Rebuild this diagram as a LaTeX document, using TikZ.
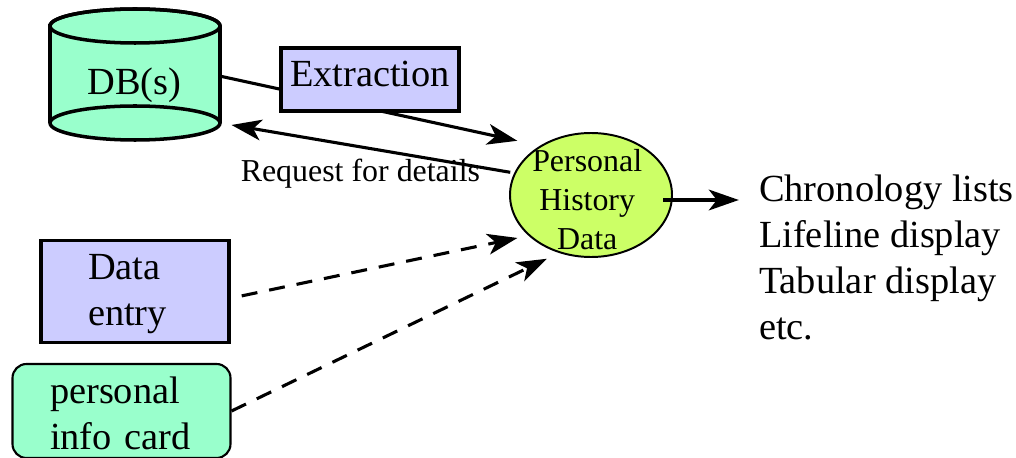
\documentclass[tikz,border=0pt]{standalone}
\usepackage{fontspec}
\setmainfont{Liberation Serif}
\usetikzlibrary{arrows.meta,shapes.geometric,backgrounds}
\definecolor{dbgreen}{HTML}{99FFCC}
\definecolor{boxblue}{HTML}{CCCCFF}
\definecolor{phdyellow}{HTML}{CCFF66}
\tikzset{
	bigtext/.style={font=\fontsize{27.3}{32.7}\selectfont},
	smalltext/.style={font=\fontsize{22.7}{27.7}\selectfont},
	bluebox/.style={draw=black, line width=2.5pt, fill=boxblue, inner sep=0pt, bigtext},
	flowarrow/.style={line width=2.2pt, -{Stealth[length=0.75cm, width=0.52cm, inset=0.2cm]}},
	flowdashed/.style={flowarrow, dash pattern=on 0.4cm off 0.3cm}
}
\begin{document}
\begin{tikzpicture}
	\useasboundingbox (0, 0) rectangle (25.4, 11.425);
	% Datenbank
	\filldraw[line width=2.5pt, draw=black, fill=dbgreen] (1.25, 10.775) -- (1.25, 8.35)
		arc (180:360:2.125 and 0.425) -- (5.5, 10.775) arc (0:180:2.125 and 0.425) -- cycle;
	\draw[line width=2.5pt] (3.375, 10.775) ellipse (2.125 and 0.425);
	\draw[line width=2.5pt] (1.25, 8.35) arc (180:0:2.125 and 0.425);
	\node[bigtext, minimum width=4.25cm, minimum height=2.75cm, inner sep=0pt] (db) at (3.36, 9.3) {DB(s)};
	% Kaesten links
	\node[bluebox, minimum width=4.45cm, minimum height=1.58cm, text height=0.85cm, text depth=0.5cm] (extraction) at (9.25, 9.4375) {Extraction};
	\node[bluebox, minimum width=4.7cm, minimum height=2.55cm, text width=2.35cm, text depth=1.25cm, align=left] (dataentry) at (3.375, 4.1375) {Data\\entry};
	\node[draw=black, line width=1.5pt, fill=dbgreen, rounded corners=0.35cm, inner sep=0pt, bigtext, minimum width=5.45cm, minimum height=2.35cm, text width=3.575cm, text depth=1.05cm, align=left] (infocard) at (3.0375, 1.15) {personal\\info card};
	% Ellipse mit Text
	\node[ellipse, draw=black, line width=1.4pt, fill=phdyellow, minimum width=4.05cm, minimum height=3.1cm, inner sep=0pt] (phd) at (14.775, 6.55) {};
	\node[smalltext, align=center, inner sep=0pt] (phdlabel) at (14.68, 6.4375) {Personal\\History\\Data};
	% Texte
	\node[smalltext, inner sep=0pt] (request) at (9.01, 7.08) {Request for details};
	\node[bigtext, align=left, anchor=west, inner sep=0pt] (lists) at (18.97, 5) {Chronology lists\\Lifeline display\\Tabular display\\etc.};
	\coordinate (phdout) at (16.575, 6.425);
	% Verbindungen
	\begin{pgfonlayer}{background}
		\draw[flowarrow, shorten >=0.58cm] (db.6) -- (phd.136);
	\end{pgfonlayer}
	\draw[flowarrow, shorten <=0.1cm, shorten >=0.3cm] (phd.164) -- (db.-24);
	\draw[flowdashed, shorten <=0.28cm, shorten >=0.28cm] (dataentry.-4) -- (phd.213);
	\draw[flowdashed, shorten >=0.335cm] (infocard.east) -- (phd.241);
	\draw[flowarrow, shorten >=0.5cm] (phdout) -- (phdout -| lists.west);
\end{tikzpicture}
\end{document}
